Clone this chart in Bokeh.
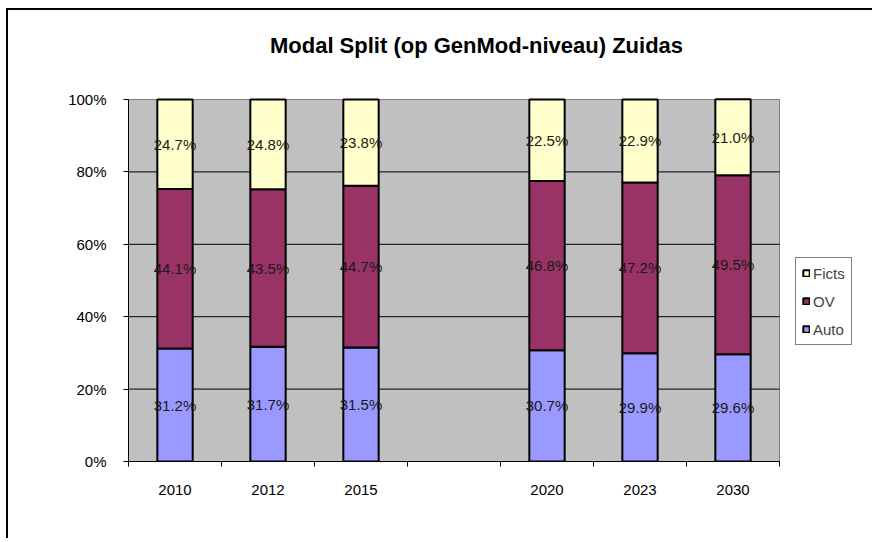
from bokeh.plotting import figure
from bokeh.models import FixedTicker, Legend, LegendItem, ColumnDataSource, Label
from bokeh.core.properties import value
from bokeh.embed import file_html
from bokeh.resources import INLINE

# ---- data ----
categories = ["2010", "2012", "2015", "", "2020", "2023", "2030"]
auto = [31.2, 31.7, 31.5, None, 30.7, 29.9, 29.6]
ov = [44.1, 43.5, 44.7, None, 46.8, 47.2, 49.5]
ficts = [24.7, 24.8, 23.8, None, 22.5, 22.9, 21.0]
series_names = ["Auto", "OV", "Ficts"]
y_ticks = [0, 20, 40, 60, 80, 100]
y_tick_labels = ["0%", "20%", "40%", "60%", "80%", "100%"]
title_text = "Modal Split (op GenMod-niveau) Zuidas"

# ---- styling / layout (pixels) ----
FONT = "Liberation Sans"
C_AUTO, C_OV, C_FICTS = "#9999FF", "#993366", "#FFFFCC"
W, H = 866, 530
LEFT = 120          # left axis panel
BOTTOM = 79         # bottom axis panel
PX_PER_CAT = 93.0   # pixel width per category slot
PX_PER_PCT = 3.62   # pixel height per percent

n = len(categories)
frame_w = W - LEFT
frame_h = H - BOTTOM
x_end = -0.5 + frame_w / PX_PER_CAT
y_end = frame_h / PX_PER_PCT

idx = [i for i, c in enumerate(categories) if c]
xs = [float(i) for i in idx]
a = [auto[i] for i in idx]
o = [ov[i] for i in idx]
f = [ficts[i] for i in idx]
src = ColumnDataSource(dict(x=xs, Auto=a, OV=o, Ficts=f))

p = figure(width=W, height=H, output_backend="svg", toolbar_location=None,
           x_range=(-0.5, x_end), y_range=(0, y_end),
           min_border_left=LEFT, min_border_right=0, min_border_top=0, min_border_bottom=BOTTOM)
p.styles = {"border-left": "2px solid black", "border-top": "2px solid black",
            "margin-left": "6px", "margin-top": "8px"}
p.border_fill_color = "white"
p.background_fill_color = "white"
p.outline_line_color = None

# plot area (grey) with border
p.quad(left=[-0.5], right=[n - 0.5], bottom=[0], top=[100],
       fill_color="#C0C0C0", line_color="#808080", line_width=1)
# horizontal gridlines inside the plot area
g = [t for t in y_ticks if 0 < t < 100]
p.segment(x0=[-0.5] * len(g), x1=[n - 0.5] * len(g), y0=g, y1=g,
          line_color="black", line_width=1)

renderers = p.vbar_stack(series_names, x="x", width=0.38, source=src,
                         color=[C_AUTO, C_OV, C_FICTS], line_color="black", line_width=2)

# value labels at segment centres
lx, ly, lt = [], [], []
for j in range(len(xs)):
    base = 0.0
    for v in (a[j], o[j], f[j]):
        lx.append(xs[j]); ly.append(base + v / 2.0); lt.append(f"{v:.1f}%")
        base += v
p.text(x=lx, y=ly, text=lt, text_align="center", text_baseline="middle",
       text_font=value(FONT), text_font_size="15px", text_color="#1a1a1a")

# title (placed inside the enlarged frame)
p.add_layout(Label(x=-0.5 + 348 / PX_PER_CAT, y=416 / PX_PER_PCT, text=title_text,
                   text_align="center", text_baseline="middle",
                   text_font=FONT, text_font_size="22px", text_font_style="bold",
                   text_color="black"))

# y axis
p.yaxis.bounds = (0, 100)
p.yaxis.ticker = FixedTicker(ticks=y_ticks)
p.yaxis.major_label_overrides = {t: l for t, l in zip(y_ticks, y_tick_labels)}
p.yaxis.major_label_text_font = FONT
p.yaxis.major_label_text_font_size = "15px"
p.yaxis.major_label_text_color = "black"
p.yaxis.major_tick_out = 5
p.yaxis.major_tick_in = 0
p.yaxis.minor_tick_line_color = None
p.yaxis.major_label_standoff = 17
p.yaxis.axis_line_color = "black"
p.yaxis.major_tick_line_color = "black"

# x axis: labels at centres, tick marks at category boundaries
bounds = [i - 0.5 for i in range(n + 1)]
p.xaxis.bounds = (-0.5, n - 0.5)
p.xaxis.ticker = FixedTicker(ticks=xs, minor_ticks=bounds)
p.xaxis.major_label_overrides = {float(i): categories[i] for i in idx}
p.xaxis.major_label_text_font = FONT
p.xaxis.major_label_text_font_size = "15px"
p.xaxis.major_label_text_color = "black"
p.xaxis.major_tick_line_color = None
p.xaxis.major_tick_out = 5
p.xaxis.major_tick_in = 0
p.xaxis.minor_tick_out = 5
p.xaxis.minor_tick_in = 0
p.xaxis.minor_tick_line_color = "black"
p.xaxis.major_label_standoff = 18
p.xaxis.axis_line_color = "black"

p.xgrid.grid_line_color = None
p.ygrid.grid_line_color = None

# legend (Ficts, OV, Auto)
items = [LegendItem(label="Ficts", renderers=[renderers[2]]),
         LegendItem(label="OV", renderers=[renderers[1]]),
         LegendItem(label="Auto", renderers=[renderers[0]])]
legend = Legend(items=items, location=(667, 116))
legend.label_text_font = FONT
legend.label_text_font_size = "15px"
legend.glyph_width = 8
legend.glyph_height = 8
legend.label_height = 18
legend.spacing = 10
legend.padding = 6
legend.margin = 0
legend.border_line_color = "black"
legend.border_line_width = 1
legend.background_fill_color = "white"
legend.background_fill_alpha = 1
legend.label_standoff = 3
p.add_layout(legend, "center")

open("out.html", "w").write(file_html(p, INLINE))
